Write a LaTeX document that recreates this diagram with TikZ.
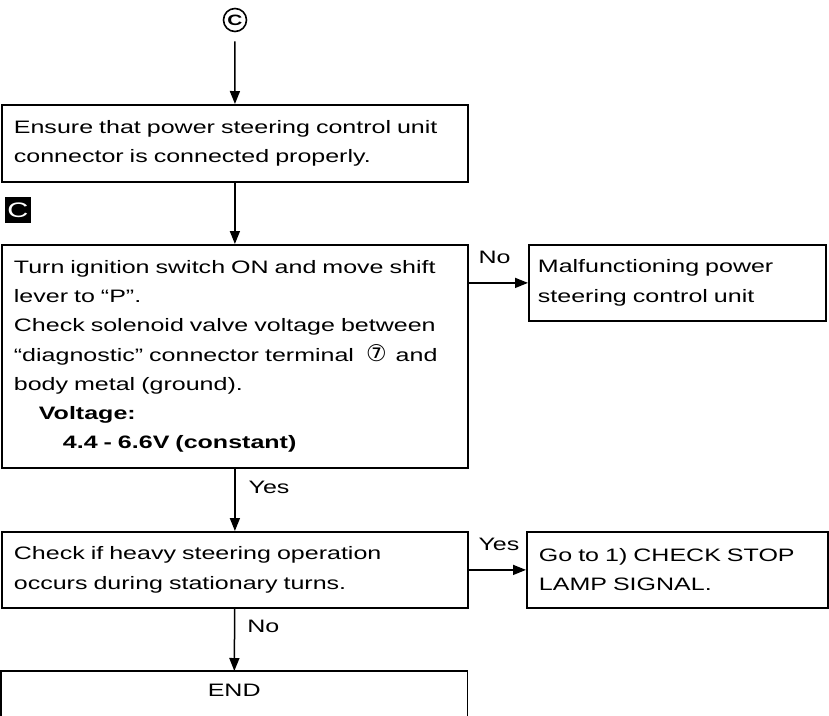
\documentclass[tikz,border=0pt]{standalone}
\usepackage{fontspec}
\setmainfont{Liberation Sans}[FakeStretch=1.39]
\newfontfamily\symfont{DejaVu Sans}
\usetikzlibrary{arrows.meta}

\begin{document}
\begin{tikzpicture}[x=1pt, y=-1pt, >={Triangle[length=13pt, width=10pt]},
  font=\fontsize{18}{29.3}\selectfont,
  box/.style={draw, line width=1.8pt, anchor=north west, align=left,
    inner xsep=12pt, inner ysep=0pt},
  link/.style={->, line width=1.5pt},
  lbl/.style={anchor=base west, inner sep=0pt}]
  \useasboundingbox (0,0) rectangle (829,715);
  \clip (0,0) rectangle (829,715);
  % --- entry mark and first check ---
  \node[circle, draw, line width=1.6pt, inner sep=0pt, minimum size=23pt,
        font=\fontsize{15}{15}\selectfont\bfseries] (entry) at (235,20) {C};
  \node[box, text width=442pt, minimum height=77pt] (conn) at (1,104)
       {Ensure that power steering control unit\\connector is connected properly.};
  \draw[link, shorten <=9pt] (entry) -- (conn);
  \node[fill=black, text=white, inner sep=0pt, minimum size=26pt,
        font=\fontsize{21}{21}\selectfont] (markC) at (18,210) {C};
  % --- voltage check ---
  \node[box, text width=442pt, minimum height=223pt] (volt) at (1,244)
       {Turn ignition switch ON and move shift\\
        lever to ``P''.\\
        Check solenoid valve voltage between\\
        ``diagnostic'' connector terminal \ {\symfont\fontsize{23}{23}\selectfont ⑦}\ \,and\\
        body metal (ground).\\
        \hspace*{25pt}\textbf{Voltage:}\\
        \hspace*{49pt}\textbf{4.4 - 6.6V (constant)}};
  \draw[link] (conn) -- (volt);
  \node[box, text width=279pt, inner xsep=9pt, minimum height=76pt] (unit) at (528,244)
       {Malfunctioning power\\steering control unit};
  \draw[link] (volt.east |- unit.west) -- node[lbl, pos=0, xshift=9pt, yshift=19pt] {No} (unit.west);
  % --- heavy steering check ---
  \node[box, text width=442pt, minimum height=76pt] (heavy) at (1,531)
       {Check if heavy steering operation\\occurs during stationary turns.};
  \draw[link] (volt) -- node[lbl, pos=0, xshift=13pt, yshift=-25pt] {Yes} (heavy);
  \node[box, text width=277pt, minimum height=76pt] (stop) at (526,531)
       {Go to 1) CHECK STOP\\LAMP SIGNAL.};
  \draw[link] (heavy) -- node[lbl, pos=0, xshift=9pt, yshift=19pt] {Yes} (stop);
  % --- end (cut off at the page bottom) ---
  \node[anchor=north west, text width=466pt, align=center, minimum height=38pt,
        inner sep=0pt] (fin) at (1,671) {END};
  \draw[line width=1.8pt] ([yshift=-12pt]fin.south west) |- (fin.north east)
       -- ([yshift=-12pt]fin.south east);
  \draw[link] (heavy) -- node[lbl, pos=0, xshift=12pt, yshift=-24pt] {No} (fin);
\end{tikzpicture}
\end{document}
